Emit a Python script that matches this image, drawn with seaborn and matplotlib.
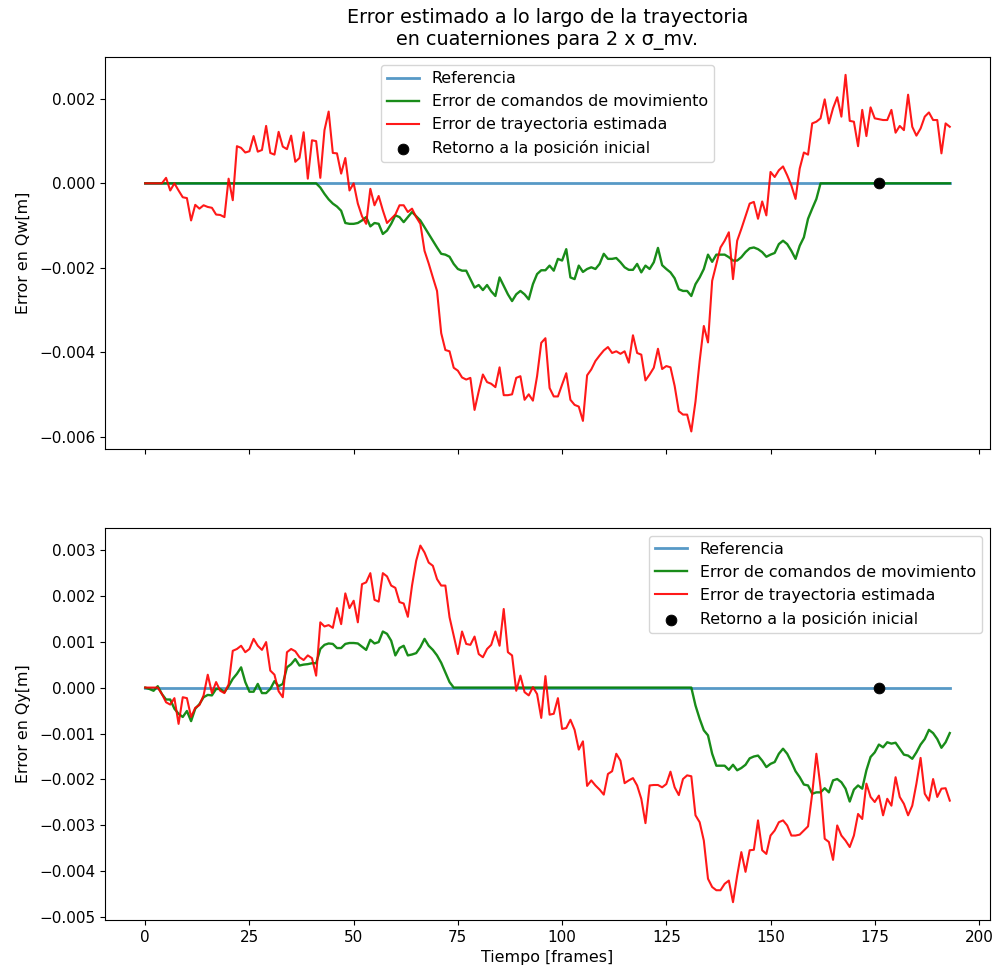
import numpy as np
import matplotlib
matplotlib.use("Agg")
import matplotlib.pyplot as plt
import seaborn as sns

# Orientation errors per frame, stored in units of 1e-3
frames = np.arange(194)

qw_trayectoria = [
    0, 0, 0, 0, 0, 0.13, -0.17, 0, -0.17, -0.33,
    -0.35, -0.88, -0.51, -0.6, -0.52, -0.56, -0.58, -0.74, -0.75, -0.8,
    0.11, -0.4, 0.88, 0.84, 0.73, 0.76, 1.12, 0.75, 0.79, 1.36,
    0.72, 0.68, 1.22, 0.87, 0.81, 1.13, 0.51, 0.6, 1.21, 0.11,
    1.02, 1.0, 0.13, 1.26, 1.7, 0.72, 0.71, 0.23, 0.6, -0.17,
    0, -0.48, -0.78, -0.96, -0.13, -0.52, -0.3, -0.64, -0.94, -0.84,
    -0.74, -0.52, -0.52, -0.68, -0.6, -0.8, -0.96, -1.6, -1.9, -2.23,
    -2.55, -3.55, -3.95, -3.98, -4.37, -4.44, -4.6, -4.65, -4.61, -5.37,
    -4.93, -4.53, -4.71, -4.75, -4.83, -4.36, -5.02, -5.02, -5.0, -4.61,
    -4.57, -5.13, -5.0, -5.15, -4.57, -3.78, -3.67, -4.85, -5.05, -5.05,
    -4.77, -4.5, -5.13, -5.25, -5.29, -5.63, -4.55, -4.41, -4.21, -4.08,
    -3.96, -3.88, -4.02, -3.98, -4.04, -3.98, -4.25, -3.6, -4.02, -4.06,
    -4.67, -4.53, -4.37, -3.92, -4.4, -4.33, -4.36, -4.8, -5.4, -5.48,
    -5.48, -5.88, -5.17, -4.21, -3.38, -3.77, -2.31, -1.91, -1.52, -1.36,
    -1.16, -2.27, -1.36, -1.08, -0.78, -0.48, -0.44, -0.84, -0.43, -0.76,
    0.27, 0.15, 0.31, 0.4, 0.19, -0.05, -0.37, 0.35, 0.73, 0.68,
    1.42, 1.46, 1.54, 1.99, 1.42, 1.78, 2.04, 1.58, 2.57, 1.48,
    1.46, 0.88, 1.74, 1.12, 1.8, 1.54, 1.52, 1.5, 1.5, 1.74,
    1.2, 1.36, 1.26, 2.1, 1.34, 1.13, 1.3, 1.58, 1.68, 1.5,
    1.5, 0.71, 1.42, 1.34,
]

qw_comandos = [0] * 42 + [
    -0.1, -0.25, -0.38, -0.48, -0.55, -0.65, -0.94, -0.96,
    -0.96, -0.94, -0.88, -0.8, -1.02, -0.94, -0.96, -1.2, -1.12, -0.96,
    -0.76, -0.8, -0.92, -0.8, -0.68, -0.78, -0.88, -1.04, -1.2, -1.36,
    -1.52, -1.67, -1.69, -1.74, -1.91, -2.03, -2.07, -2.07, -2.27, -2.47,
    -2.41, -2.53, -2.41, -2.56, -2.67, -2.23, -2.43, -2.63, -2.79, -2.63,
    -2.55, -2.63, -2.75, -2.39, -2.15, -2.06, -2.06, -1.95, -2.07, -1.79,
    -1.83, -1.56, -2.23, -2.27, -1.95, -2.1, -2.03, -1.99, -2.03, -1.91,
    -1.67, -1.79, -1.79, -1.77, -1.87, -1.99, -2.05, -2.05, -1.91, -2.11,
    -1.95, -2.03, -1.87, -1.53, -1.94, -2.03, -2.11, -2.25, -2.51, -2.55,
    -2.55, -2.67, -2.39, -2.23, -2.03, -1.69, -1.86, -1.69, -1.69, -1.69,
    -1.75, -1.83, -1.83, -1.75, -1.63, -1.54, -1.52, -1.56, -1.63, -1.74,
    -1.69, -1.65, -1.44, -1.36, -1.44, -1.6, -1.79, -1.48, -1.28, -0.84,
    -0.6, -0.37,
] + [0] * 32

qy_trayectoria = [
    0, 0, 0, 0, -0.14, -0.32, -0.37, -0.23, -0.79, -0.21,
    -0.23, -0.64, -0.44, -0.38, -0.17, 0.28, -0.12, 0.12, -0.07, -0.12,
    0.07, 0.8, 0.84, 0.91, 0.77, 0.84, 1.06, 0.91, 0.82, 0.99,
    0.37, 0.28, -0.08, -0.21, 0.77, 0.84, 0.79, 0.66, 0.6, 0.7,
    0.64, 0.26, 1.42, 1.33, 1.36, 1.3, 1.73, 1.38, 2.05, 1.73,
    1.89, 1.42, 2.25, 2.29, 2.49, 1.91, 1.87, 2.49, 2.42, 2.22,
    2.17, 1.86, 1.83, 1.54, 2.22, 2.76, 3.09, 2.94, 2.72, 2.65,
    2.36, 2.22, 2.22, 1.53, 1.13, 0.73, 1.22, 0.95, 0.93, 1.11,
    0.73, 0.66, 0.84, 0.93, 1.22, 0.91, 1.71, 0.77, 0.7, -0.07,
    0.26, -0.1, -0.17, 0.01, -0.14, -0.66, 0.25, -0.59, -0.57, -0.23,
    -0.9, -0.88, -0.7, -0.92, -1.35, -1.17, -2.14, -2.02, -2.13, -2.22,
    -2.33, -1.88, -1.82, -1.44, -1.59, -2.08, -2.02, -1.97, -2.13, -2.42,
    -2.95, -2.13, -2.12, -2.12, -2.17, -2.1, -1.83, -2.17, -2.34, -1.99,
    -1.91, -1.93, -2.78, -2.93, -3.33, -4.16, -4.34, -4.41, -4.41, -4.27,
    -4.2, -4.67, -4.09, -3.58, -4.01, -3.54, -3.53, -2.89, -3.54, -3.62,
    -3.22, -3.11, -2.93, -2.89, -3.0, -3.22, -3.22, -3.2, -3.11, -3.02,
    -2.31, -1.44, -2.17, -3.29, -3.36, -3.75, -3.0, -3.22, -3.33, -3.47,
    -3.22, -2.75, -2.86, -2.09, -2.38, -2.49, -2.35, -2.78, -2.42, -2.57,
    -1.95, -2.38, -2.53, -2.78, -2.57, -2.09, -1.53, -2.31, -2.46, -1.99,
    -2.38, -2.2, -2.19, -2.46,
]

qy_comandos = [
    0, -0.03, -0.07, 0.03, -0.14, -0.26, -0.26, -0.46, -0.57, -0.64,
    -0.51, -0.73, -0.46, -0.36, -0.21, -0.16, -0.17, -0.03, -0.03, -0.1,
    0.03, 0.19, 0.3, 0.44, 0.12, -0.09, -0.09, 0.08, -0.12, -0.12,
    -0.03, 0.14, 0.03, 0.08, 0.44, 0.51, 0.62, 0.48, 0.5, 0.51,
    0.53, 0.53, 0.84, 0.93, 0.96, 0.95, 0.86, 0.86, 0.95, 0.97,
    0.97, 0.96, 0.89, 0.82, 1.04, 0.96, 0.99, 1.22, 1.17, 1.02,
    0.7, 0.86, 0.91, 0.7, 0.72, 0.75, 0.88, 1.06, 0.91, 0.82,
    0.7, 0.54, 0.33, 0.12,
] + [0] * 58 + [
    -0.39, -0.68, -0.93, -1.04, -1.44, -1.7, -1.7, -1.7,
    -1.79, -1.68, -1.8, -1.75, -1.68, -1.54, -1.5, -1.48, -1.59, -1.73,
    -1.66, -1.62, -1.44, -1.33, -1.44, -1.62, -1.82, -1.95, -2.11, -2.13,
    -2.31, -2.28, -2.28, -2.19, -2.28, -2.02, -1.99, -2.06, -2.2, -2.48,
    -2.22, -2.13, -2.2, -1.8, -1.51, -1.41, -1.24, -1.3, -1.19, -1.22,
    -1.2, -1.33, -1.46, -1.48, -1.55, -1.41, -1.24, -1.12, -0.92, -0.99,
    -1.12, -1.31, -1.19, -0.99,
]

referencia = [0] * 194
retorno_frame = [176]
retorno_valor = [0]

scale = 1e-3
panels = [
    (qw_comandos, qw_trayectoria, "Error en Qw[m]", "upper center"),
    (qy_comandos, qy_trayectoria, "Error en Qy[m]", "upper right"),
]

plt.rcParams["font.size"] = 11.4
plt.rcParams["xtick.labelsize"] = 11
plt.rcParams["ytick.labelsize"] = 11
fig, axes = plt.subplots(2, 1, figsize=(10, 9.75), dpi=100, sharex=True)
fig.subplots_adjust(left=0.105, right=0.99, top=0.9415, bottom=0.0564, hspace=0.2)

for ax, (cmd, est, ylabel, loc) in zip(axes, panels):
    sns.lineplot(x=frames, y=np.array(referencia) * scale, ax=ax,
                 color="#1f77b4", alpha=0.75, linewidth=2.0, label="Referencia")
    sns.lineplot(x=frames, y=np.array(cmd) * scale, ax=ax,
                 color="green", alpha=0.9, linewidth=1.7,
                 label="Error de comandos de movimiento")
    sns.lineplot(x=frames, y=np.array(est) * scale, ax=ax,
                 color="red", alpha=0.9, linewidth=1.5,
                 label="Error de trayectoria estimada")
    sns.scatterplot(x=retorno_frame, y=np.array(retorno_valor) * scale, ax=ax,
                    color="black", s=60, edgecolor="black", zorder=5,
                    label="Retorno a la posición inicial")
    ax.set_ylabel(ylabel, labelpad=6)
    ax.legend(loc=loc)

axes[0].set_title("Error estimado a lo largo de la trayectoria\n"
                  "en cuaterniones para 2 x σ_mv.", fontsize=13.8, pad=8.5)
axes[1].set_xlabel("Tiempo [frames]")

fig.savefig("out.png", dpi=100)
